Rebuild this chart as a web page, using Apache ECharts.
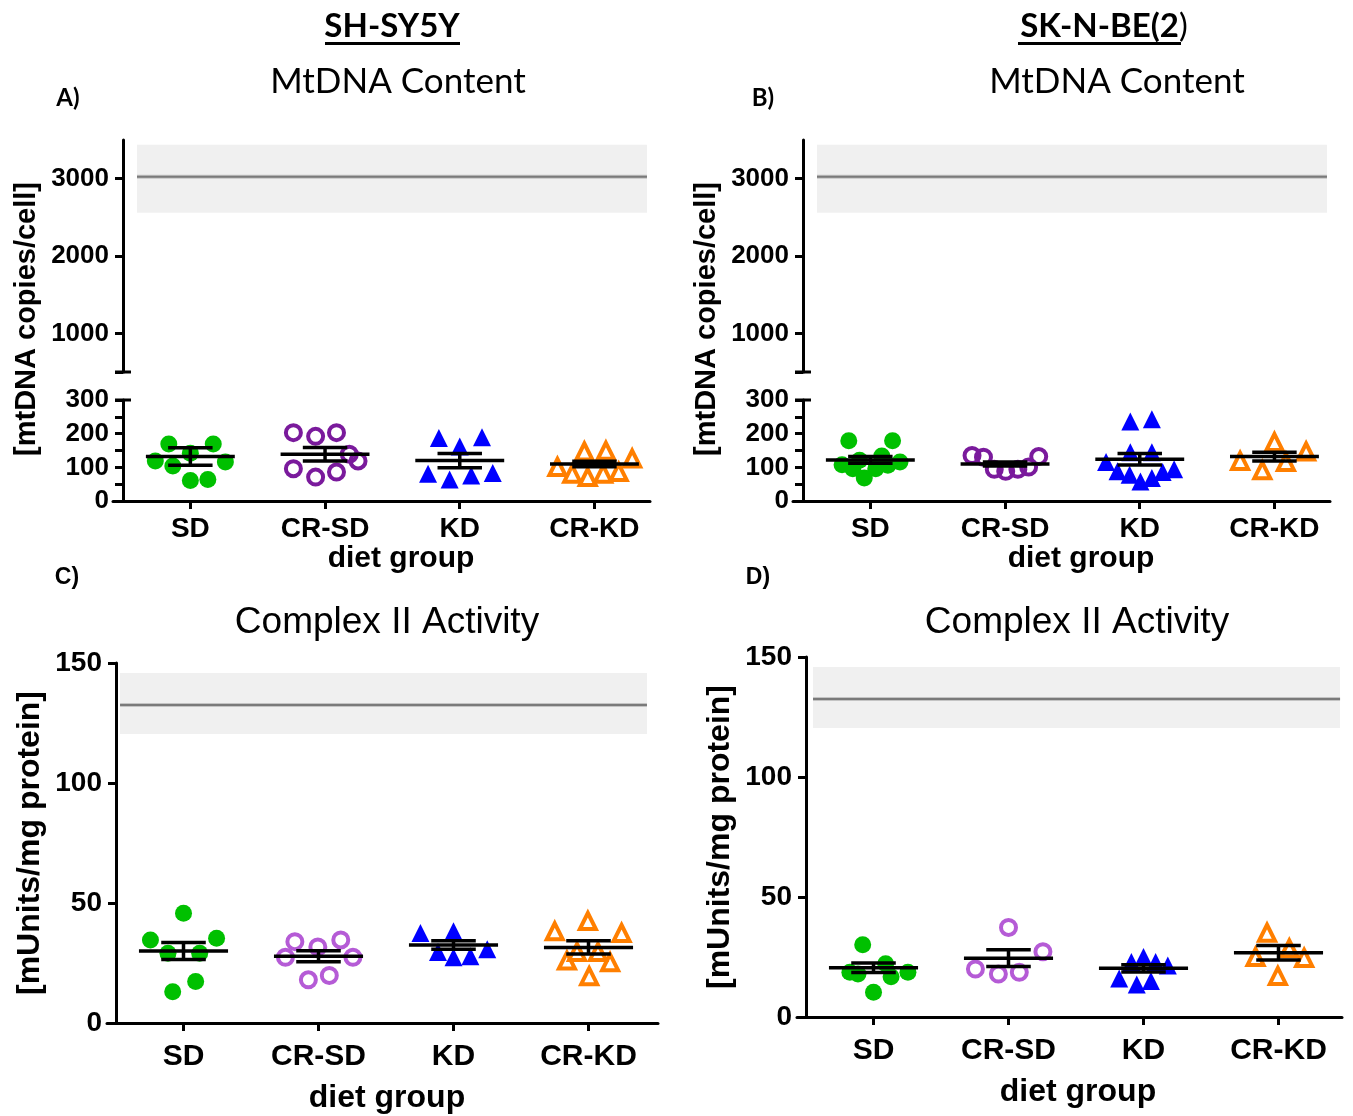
<!DOCTYPE html>
<html>
<head>
<meta charset="utf-8">
<script src="https://cdn.jsdelivr.net/npm/echarts@6/dist/echarts.min.js"></script>
<style>
  html, body { margin: 0; padding: 0; background: #fff; }
  #chart { width: 1353px; height: 1116px; }
</style>
</head>
<body>
<div id="chart"></div>
<script>
const groups = ['SD', 'CR-SD', 'KD', 'CR-KD'];

// points are [jitter offset in category units, value]
// A) SH-SY5Y mtDNA content
const aSD = [[-0.16, 169], [0.17, 169], [-0.26, 119], [-0.13, 104], [0, 142], [0.26, 116], [0, 61], [0.13, 64]];
const aCRSD = [[-0.235, 203], [-0.07, 192], [0.085, 203], [0.18, 139], [0.245, 119], [-0.235, 96], [-0.07, 71], [0.085, 86]];
const aKD = [[-0.155, 187], [0, 162], [0.165, 189], [-0.235, 81], [-0.075, 64], [0.085, 76], [0.245, 83]];
const aCRKD = [[-0.275, 101], [-0.075, 147], [0.085, 149], [0.28, 126], [-0.165, 81], [-0.05, 71], [0.065, 81], [0.18, 86]];
const aMean = [132, 139, 120, 110];
const aSem = [26, 20, 21, 8];

// B) SK-N-BE(2) mtDNA content
const bSD = [[-0.16, 179], [0.165, 179], [-0.21, 108], [-0.08, 121], [0.085, 134], [0.22, 116], [-0.13, 96], [0.04, 96], [0.13, 106], [-0.045, 68]];
const bCRSD = [[-0.245, 135], [-0.16, 130], [-0.08, 94], [0.005, 88], [0.095, 94], [0.175, 101], [0.25, 132]];
const bKD = [[-0.07, 236], [0.09, 243], [-0.07, 145], [0.09, 145], [-0.25, 116], [-0.165, 88], [-0.075, 78], [0.005, 58], [0.09, 68], [0.17, 86], [0.255, 94]];
const bCRKD = [[-0.255, 119], [0, 175], [0.235, 147], [-0.09, 91], [0.085, 116]];
const bMean = [122, 110, 124, 132];
const bSem = [10, 6, 17, 13];

// C) SH-SY5Y complex II activity
const cSD = [[0, 45.7], [-0.245, 34.6], [0.245, 35.3], [-0.115, 29.1], [0.12, 29.1], [0.09, 17.3], [-0.08, 13]];
const cCRSD = [[-0.175, 33.9], [-0.005, 31.7], [0.165, 34.6], [-0.245, 27.4], [0.255, 27.4], [-0.075, 18], [0.08, 19.8]];
const cKD = [[-0.245, 37.5], [0, 38.2], [-0.115, 29.6], [0, 27.4], [0.125, 27.8], [0.25, 30.7]];
const cCRKD = [[-0.25, 38.2], [-0.005, 42.5], [0.245, 37.5], [-0.16, 26], [0.16, 25.3], [-0.085, 29.6], [0.07, 29.6], [0.005, 19.5]];
const cMean = [30, 27.8, 32.5, 31.5];
const cSem = [3.5, 2.3, 1.8, 2.8];

// D) SK-N-BE(2) complex II activity
const dSD = [[-0.08, 30.1], [-0.175, 18.6], [-0.115, 17.9], [0.09, 22.2], [0.13, 16.8], [0.255, 18.6], [0, 10.3]];
const dCRSD = [[0, 37.3], [0.255, 27.2], [-0.245, 20], [-0.075, 17.9], [0.08, 18.6]];
const dKD = [[-0.09, 22.9], [0, 25], [0.09, 22.9], [0.18, 21.5], [-0.18, 16], [-0.05, 13.5], [0.055, 15]];
const dCRKD = [[-0.085, 35.1], [0.08, 28.6], [-0.17, 25], [0.19, 24.6], [-0.005, 17.1]];
const dMean = [20.5, 24.5, 20.3, 26.8];
const dSem = [2, 3.5, 1.5, 3];

// reference (control) value: [line, band low, band high]
const mtRef = [3025, 2560, 3440];
const c2Ref = [132.5, 120.4, 145.8];

const lowTicks = [0, 50, 100, 150, 200, 250, 300];
const lowLabels = [0, 100, 200, 300];
const highTicks = [500, 1000, 2000, 3000];
const highLabels = [1000, 2000, 3000];
const c2Ticks = [0, 50, 100, 150];

const ARIAL = 'Liberation Sans, Arial, sans-serif';
const CALIBRI = 'Lato, Open Sans, sans-serif';

const chart = echarts.init(document.getElementById('chart'));

// grid layout: one entry per grid
const grids = [
  { left: 113, top: 140, width: 537, height: 232, xMin: 0.4258, xMax: 4.4124 }, // A upper
  { left: 113, top: 400, width: 537, height: 101, xMin: 0.4258, xMax: 4.4124 }, // A lower
  { left: 793, top: 140, width: 537, height: 232, xMin: 0.4258, xMax: 4.4124 }, // B upper
  { left: 793, top: 400, width: 537, height: 101, xMin: 0.4258, xMax: 4.4124 }, // B lower
  { left: 107, top: 663, width: 551, height: 360, xMin: 0.4333, xMax: 4.5148 }, // C
  { left: 797, top: 657, width: 545, height: 360, xMin: 0.4333, xMax: 4.4704 }  // D
];

const axisLine = { show: true, lineStyle: { color: '#000', width: 3 } };
const axisTickStyle = { lineStyle: { color: '#000', width: 3 } };

const xAxes = grids.map((g, i) => {
  const upper = (i === 0 || i === 2);
  const big = i >= 4;
  return {
    gridIndex: i, type: 'value', min: g.xMin, max: g.xMax, show: !upper,
    axisLine: Object.assign({ onZero: false }, axisLine),
    axisTick: Object.assign({ show: true, length: 8, customValues: [1, 2, 3, 4] }, axisTickStyle),
    axisLabel: {
      customValues: [1, 2, 3, 4], formatter: v => groups[Math.round(v) - 1],
      fontFamily: ARIAL, fontWeight: 'bold', fontSize: big ? 30 : 28, color: '#000',
      margin: big ? 19 : 14
    },
    splitLine: { show: false }
  };
});

const yAxes = grids.map((g, i) => {
  let min, max, ticks, labels;
  if (i === 0 || i === 2) { min = 500; max = 3500; ticks = highTicks; labels = highLabels; }
  else if (i === 1 || i === 3) { min = 0; max = 300; ticks = lowTicks; labels = lowLabels; }
  else { min = 0; max = 150; ticks = c2Ticks; labels = c2Ticks; }
  return {
    gridIndex: i, type: 'value', min: min, max: max, offset: i >= 4 ? -9 : -10,
    axisLine: Object.assign({ onZero: false }, axisLine),
    axisTick: Object.assign({ show: true, length: 8, customValues: ticks }, axisTickStyle),
    axisLabel: {
      customValues: labels, formatter: v => String(v), fontFamily: ARIAL, fontWeight: 'bold',
      fontSize: i >= 4 ? 28 : 26, color: '#000', margin: 14
    },
    splitLine: { show: false }
  };
});

function refBand(params, api) {
  const a = api.coord([api.value(0), api.value(4)]);
  const b = api.coord([api.value(1), api.value(3)]);
  const m0 = api.coord([api.value(0), api.value(2)]);
  const m1 = api.coord([api.value(1), api.value(2)]);
  return {
    type: 'group', children: [
      { type: 'rect', shape: { x: a[0], y: a[1], width: b[0] - a[0], height: b[1] - a[1] }, style: { fill: '#f0f0f0' } },
      { type: 'line', shape: { x1: m0[0], y1: m0[1], x2: m1[0], y2: m1[1] }, style: { stroke: '#c4c4c4', lineWidth: 4 } },
      { type: 'line', shape: { x1: m0[0], y1: m0[1], x2: m1[0], y2: m1[1] }, style: { stroke: '#7a7a7a', lineWidth: 2 } }
    ]
  };
}

function meanSem(params, api) {
  const x = api.value(0), m = api.value(1), s = api.value(2);
  const p = (dx, v) => api.coord([x + dx, v]);
  const seg = (a, b) => ({
    type: 'line', shape: { x1: a[0], y1: a[1], x2: b[0], y2: b[1] },
    style: { stroke: '#000', lineWidth: 3.5 }
  });
  return {
    type: 'group', children: [
      seg(p(-0.33, m), p(0.33, m)),
      seg(p(-0.165, m + s), p(0.165, m + s)),
      seg(p(-0.165, m - s), p(0.165, m - s)),
      seg(p(0, m + s), p(0, m - s))
    ]
  };
}

const series = [];

function addPanel(gridIdx, refGrid, ref, bandX, sets, means, sems, purple) {
  series.push({
    type: 'custom', xAxisIndex: refGrid, yAxisIndex: refGrid, renderItem: refBand, z: 1,
    data: [[bandX[0], bandX[1], ref[0], ref[1], ref[2]]], encode: { x: [0, 1], y: [2, 3, 4] }, silent: true
  });
  const styles = [
    { symbol: 'circle', symbolSize: 17, itemStyle: { color: '#00c000', opacity: 1 } },
    { symbol: 'circle', symbolSize: 15, itemStyle: { color: 'rgba(0,0,0,0)', borderColor: purple, borderWidth: 4, opacity: 1 } },
    { symbol: 'triangle', symbolSize: 18, itemStyle: { color: '#0000ff', opacity: 1 } },
    { symbol: 'triangle', symbolSize: 16, itemStyle: { color: 'rgba(0,0,0,0)', borderColor: '#ff7f00', borderWidth: 4, opacity: 1 } }
  ];
  sets.forEach((pts, gi) => {
    series.push(Object.assign({
      type: 'scatter', xAxisIndex: gridIdx, yAxisIndex: gridIdx, z: 2,
      data: pts.map(p => [gi + 1 + p[0], p[1]])
    }, styles[gi]));
  });
  series.push({
    type: 'custom', xAxisIndex: gridIdx, yAxisIndex: gridIdx, renderItem: meanSem, z: 3,
    data: means.map((m, gi) => [gi + 1, m, sems[gi]]), encode: { x: 0, y: 1 }, silent: true
  });
}

addPanel(1, 0, mtRef, [0.604, 4.39], [aSD, aCRSD, aKD, aCRKD], aMean, aSem, '#7a1a9c');
addPanel(3, 2, mtRef, [0.604, 4.39], [bSD, bCRSD, bKD, bCRKD], bMean, bSem, '#7a1a9c');
addPanel(4, 4, c2Ref, [0.53, 4.433], [cSD, cCRSD, cKD, cCRKD], cMean, cSem, '#b55bd6');
addPanel(5, 5, c2Ref, [0.552, 4.456], [dSD, dCRSD, dKD, dCRKD], dMean, dSem, '#b55bd6');

function txt(text, x, y, size, family, weight, rotate) {
  return {
    type: 'text', x: x, y: y, rotation: rotate ? Math.PI / 2 : 0, z: 10,
    style: {
      text: text, fontSize: size, fontFamily: family, fontWeight: weight || 'normal',
      fill: '#000', textAlign: 'center', textVerticalAlign: 'middle'
    }
  };
}

const graphics = [
  txt('SH-SY5Y', 392, 26, 33, CALIBRI, 'bold'),
  { type: 'rect', shape: { x: 325, y: 42, width: 135, height: 3 }, style: { fill: '#000' } },
  {
    type: 'text', x: 1104, y: 26, z: 10,
    style: {
      text: '{b|SK-N-BE(2}{r|)}', textAlign: 'center', textVerticalAlign: 'middle',
      rich: {
        b: { fontSize: 33, fontFamily: CALIBRI, fontWeight: 'bold', fill: '#000' },
        r: { fontSize: 33, fontFamily: CALIBRI, fontWeight: 'normal', fill: '#000' }
      }
    }
  },
  { type: 'rect', shape: { x: 1018, y: 42, width: 163, height: 3 }, style: { fill: '#000' } },
  txt('MtDNA Content', 398, 82, 35, CALIBRI),
  txt('MtDNA Content', 1117, 82, 35, CALIBRI),
  txt('A)', 68, 98, 24, CALIBRI, 'bold'),
  txt('B)', 763, 98, 24, CALIBRI, 'bold'),
  txt('C)', 67, 578, 23, ARIAL, 'bold'),
  txt('D)', 758, 578, 23, ARIAL, 'bold'),
  txt('Complex II Activity', 387, 623, 37, ARIAL),
  txt('Complex II Activity', 1077, 623, 37, ARIAL),
  txt('diet group', 401, 559, 30, ARIAL, 'bold'),
  txt('diet group', 1081, 559, 30, ARIAL, 'bold'),
  txt('diet group', 387, 1098, 32, ARIAL, 'bold'),
  txt('diet group', 1078, 1092, 32, ARIAL, 'bold'),
  txt('[mtDNA copies/cell]', 27, 319, 29, ARIAL, 'bold', true),
  txt('[mtDNA copies/cell]', 707, 319, 29, ARIAL, 'bold', true),
  txt('[mUnits/mg protein]', 30, 843, 32, ARIAL, 'bold', true),
  txt('[mUnits/mg protein]', 720, 837, 32, ARIAL, 'bold', true)
];

chart.setOption({
  animation: false,
  backgroundColor: '#fff',
  grid: grids.map(g => ({ left: g.left, top: g.top, width: g.width, height: g.height, containLabel: false })),
  xAxis: xAxes,
  yAxis: yAxes,
  series: series,
  graphic: graphics
});

// axis break caps on the broken y axes (both sides of the axis line)
[[0, 500], [1, 300], [2, 500], [3, 300]].forEach(([gi, v]) => {
  const p = chart.convertToPixel({ gridIndex: gi }, [0.5, v]);
  graphics.push({
    type: 'line', z: 10,
    shape: { x1: p[0] - 8, y1: p[1], x2: p[0] + 8, y2: p[1] },
    style: { stroke: '#000', lineWidth: 3 }
  });
});
chart.setOption({ graphic: graphics });
</script>
</body>
</html>
